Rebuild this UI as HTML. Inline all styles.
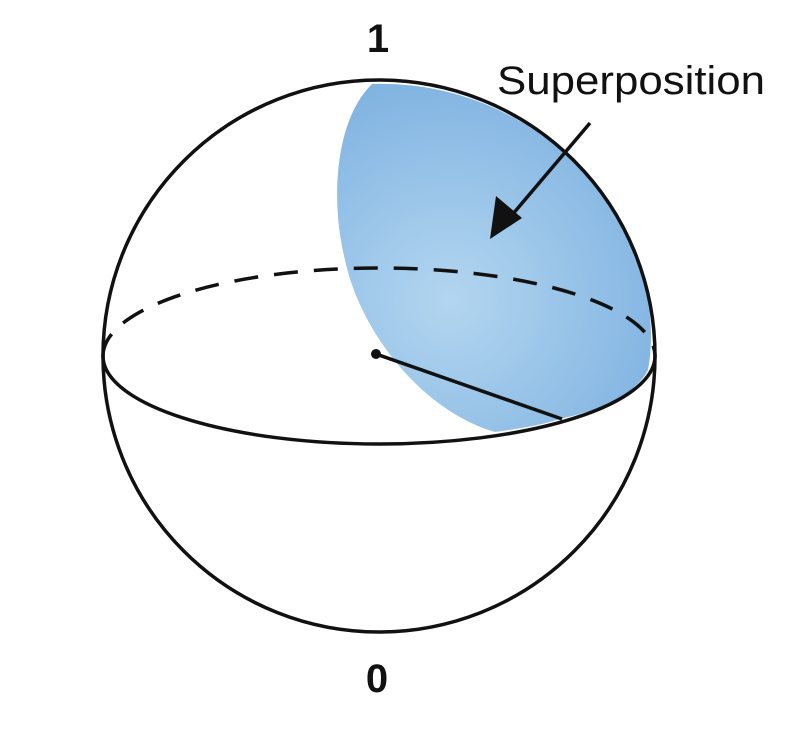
<!DOCTYPE html>
<html><head><style>body{margin:0;background:#fff}</style></head><body>
<svg width="806" height="738" viewBox="0 0 806 738" xmlns="http://www.w3.org/2000/svg">
<defs>
<radialGradient id="g" cx="450" cy="300" r="260" gradientUnits="userSpaceOnUse">
<stop offset="0" stop-color="#b3d6f0"/><stop offset="1" stop-color="#79aedf"/>
</radialGradient>
</defs>
<rect width="806" height="738" fill="#fff"/>
<path d="M372,84 C335,120 330,200 345,260 C360,330 420,410 495,432 C525,428 545,424 560,419 C600,410 635,395 648,370 C655,330 650,290 630,240 A276,276 0 0 0 372,84 Z" fill="url(#g)"/>
<circle cx="379" cy="356" r="276" fill="none" stroke="#111" stroke-width="3.5"/>
<path d="M103,356 A276,88 0 0 0 655,356" fill="none" stroke="#111" stroke-width="3.5"/>
<path d="M103,356 A276,88 0 0 1 655,356" fill="none" stroke="#111" stroke-width="3.5" stroke-dasharray="24,16"/>
<line x1="376" y1="354" x2="562" y2="419" stroke="#111" stroke-width="3.5"/>
<circle cx="376" cy="354" r="5" fill="#111"/>
<line x1="590" y1="123" x2="512" y2="215" stroke="#111" stroke-width="3.5"/>
<polygon points="490,239 496,196 522,218" fill="#111"/>
<text x="378" y="52" font-family="Liberation Sans, sans-serif" font-size="40" font-weight="bold" text-anchor="middle" fill="#111">1</text>
<text x="377" y="692" font-family="Liberation Sans, sans-serif" font-size="40" font-weight="bold" text-anchor="middle" fill="#111">0</text>
<text x="497" y="94" font-family="Liberation Sans, sans-serif" font-size="40" textLength="268" lengthAdjust="spacingAndGlyphs" fill="#111">Superposition</text>
</svg>
</body></html>
